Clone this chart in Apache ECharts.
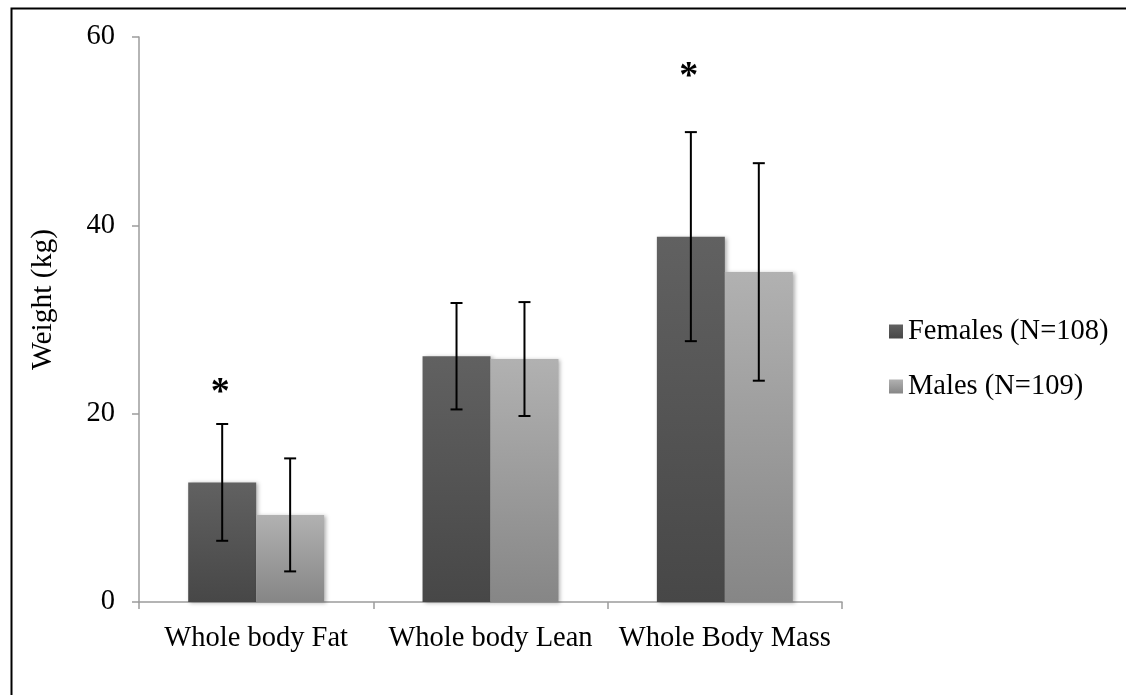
<!DOCTYPE html>
<html>
<head>
<meta charset="utf-8">
<script src="https://cdn.jsdelivr.net/npm/echarts@6/dist/echarts.min.js"></script>
<style>
html,body{margin:0;padding:0;background:#fff;}
#chart{width:1126px;height:695px;}
</style>
</head>
<body>
<div id="chart"></div>
<script>
var categories = ['Whole body Fat', 'Whole body Lean', 'Whole Body Mass'];
var femaleMean = [12.7, 26.1, 38.8];
var femaleSD = [6.2, 5.65, 11.1];
var maleMean = [9.25, 25.8, 35.05];
var maleSD = [6.0, 6.05, 11.55];
var asteriskY = [23.1, null, 56.7];
var seriesNames = ['Females (N=108)', 'Males (N=109)'];
var yMin = 0, yMax = 60, yInterval = 20;

var FONT = "'Liberation Serif', 'Times New Roman', serif";
var CAT_GAP = 0.42;

function grad(top, bottom) {
  return new echarts.graphic.LinearGradient(0, 0, 0, 1, [
    {offset: 0, color: top}, {offset: 1, color: bottom}
  ]);
}

function barCenterX(api, i, side) {
  var c = api.coord([i, 0]);
  var band = api.size([1, 0])[0];
  var bw = band * (1 - CAT_GAP) / 2;
  return c[0] + side * bw / 2;
}

function errRenderer(side) {
  return function (params, api) {
    var i = api.value(0), m = api.value(1), s = api.value(2);
    var x = barCenterX(api, i, side);
    var yt = api.coord([i, m + s])[1];
    var yb = api.coord([i, m - s])[1];
    var st = {stroke: '#000', lineWidth: 2};
    var cap = 6;
    return {
      type: 'group',
      children: [
        {type: 'line', shape: {x1: x, y1: yt, x2: x, y2: yb}, style: st},
        {type: 'line', shape: {x1: x - cap, y1: yt, x2: x + cap, y2: yt}, style: st},
        {type: 'line', shape: {x1: x - cap, y1: yb, x2: x + cap, y2: yb}, style: st}
      ]
    };
  };
}

function astRenderer(params, api) {
  var i = api.value(0), v = api.value(1);
  var x = barCenterX(api, i, -1) - 2;
  var y = api.coord([i, v])[1];
  return {
    type: 'text',
    style: {
      x: x, y: y + 9,
      text: '*',
      fontFamily: FONT,
      fontSize: 38,
      fontWeight: 'bold',
      fill: '#000',
      align: 'center',
      verticalAlign: 'middle'
    }
  };
}

var femErr = femaleMean.map(function (v, i) { return [i, v, femaleSD[i]]; });
var maleErr = maleMean.map(function (v, i) { return [i, v, maleSD[i]]; });
var astData = asteriskY.map(function (v, i) { return v == null ? null : [i, v]; }).filter(function (d) { return d; });

var chart = echarts.init(document.getElementById('chart'), null, {renderer: 'canvas'});
chart.setOption({
  animation: false,
  backgroundColor: '#fff',
  textStyle: {fontFamily: FONT, color: '#000'},
  grid: {left: 139, right: 284, top: 37, bottom: 93, containLabel: false},
  legend: {
    data: seriesNames,
    orient: 'vertical',
    left: 884,
    top: 312,
    itemWidth: 14,
    itemHeight: 14,
    itemGap: 26,
    icon: 'rect',
    textStyle: {fontFamily: FONT, fontSize: 28.5, color: '#000'}
  },
  graphic: [{
    type: 'rect',
    left: 9, top: 6,
    shape: {width: 1300, height: 900},
    style: {fill: 'none', stroke: '#000', lineWidth: 2},
    silent: true
  }],
  xAxis: {
    type: 'category',
    data: categories,
    axisLine: {lineStyle: {color: '#9c9c9c', width: 1.5}},
    axisTick: {show: true, length: 7, lineStyle: {color: '#9c9c9c', width: 1.5}},
    axisLabel: {interval: 0, fontFamily: FONT, fontSize: 28.5, color: '#000', margin: 22}
  },
  yAxis: {
    type: 'value',
    min: yMin, max: yMax, interval: yInterval,
    name: 'Weight (kg)',
    nameLocation: 'middle',
    nameRotate: 90,
    nameGap: 81,
    nameTextStyle: {fontFamily: FONT, fontSize: 29.5, color: '#000', padding: [0, 0, 0, 40]},
    splitLine: {show: false},
    axisLine: {show: true, lineStyle: {color: '#9c9c9c', width: 1.5}},
    axisTick: {show: true, length: 7, lineStyle: {color: '#9c9c9c', width: 1.5}},
    axisLabel: {fontFamily: FONT, fontSize: 28.5, color: '#000', margin: 24}
  },
  series: [
    {
      name: seriesNames[0],
      type: 'bar',
      data: femaleMean,
      barGap: '0%',
      barCategoryGap: '42%',
      itemStyle: {
        color: grad('#616161', '#474747'),
        shadowBlur: 4, shadowColor: 'rgba(0,0,0,0.3)', shadowOffsetX: 2, shadowOffsetY: 1
      }
    },
    {
      name: seriesNames[1],
      type: 'bar',
      data: maleMean,
      barGap: '0%',
      barCategoryGap: '42%',
      itemStyle: {
        color: grad('#b1b1b1', '#868686'),
        shadowBlur: 4, shadowColor: 'rgba(0,0,0,0.3)', shadowOffsetX: 2, shadowOffsetY: 1
      }
    },
    {
      type: 'custom',
      renderItem: errRenderer(-1),
      data: femErr,
      z: 10,
      silent: true
    },
    {
      type: 'custom',
      renderItem: errRenderer(1),
      data: maleErr,
      z: 10,
      silent: true
    },
    {
      type: 'custom',
      renderItem: astRenderer,
      data: astData,
      z: 11,
      silent: true
    }
  ]
});
</script>
</body>
</html>
